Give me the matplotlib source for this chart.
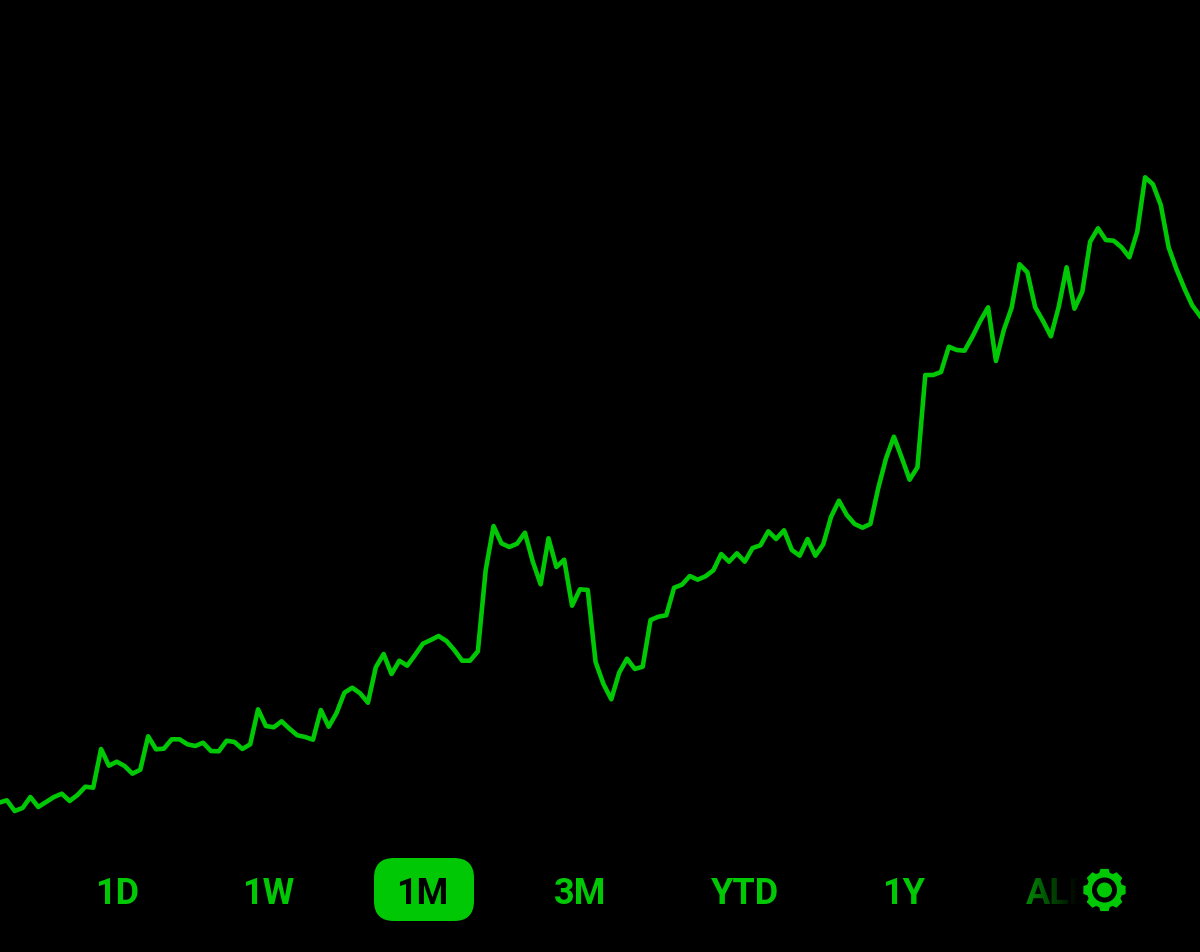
import matplotlib.pyplot as plt
import numpy as np
from matplotlib.patches import FancyBboxPatch, Circle, Polygon

# line values (height above the bottom edge)
values = [
    149.3, 151.7, 141.0, 144.0, 155.0, 145.0, 150.0, 155.0, 158.3, 151.0,
    157.0, 165.3, 164.3, 203.0, 186.3, 190.3, 186.0, 178.3, 182.3, 215.7,
    202.7, 203.3, 212.7, 212.7, 207.7, 206.0, 209.3, 201.0, 200.7, 211.3,
    210.0, 203.0, 207.7, 242.7, 226.0, 224.7, 230.7, 223.3, 216.7, 215.0,
    212.3, 242.0, 225.3, 239.0, 259.3, 264.3, 258.7, 249.3, 284.7, 298.0,
    278.0, 291.3, 286.3, 297.0, 308.3, 312.0, 316.0, 311.0, 302.0, 291.3,
    291.3, 300.7, 382.0, 426.0, 408.7, 405.0, 408.3, 419.3, 390.3, 367.7,
    413.7, 385.0, 392.3, 346.3, 362.7, 362.0, 290.0, 268.0, 252.7, 279.3,
    293.3, 283.0, 285.3, 332.0, 335.3, 336.7, 364.3, 367.3, 376.0, 372.3,
    375.7, 381.7, 398.0, 390.3, 398.7, 390.3, 404.0, 406.7, 420.7, 413.0,
    421.7, 402.0, 396.3, 413.0, 396.3, 407.7, 435.3, 451.3, 437.0, 428.0,
    424.3, 428.0, 463.7, 493.7, 515.3, 494.3, 472.3, 484.7, 577.0, 577.0,
    580.0, 605.3, 602.0, 601.3, 615.3, 631.0, 644.7, 591.0, 622.0, 644.3,
    687.7, 679.7, 644.7, 631.0, 615.7, 645.3, 684.7, 643.3, 660.3, 710.3,
    723.7, 712.0, 711.3, 704.7, 694.7, 720.3, 774.7, 767.7, 747.0, 704.7,
    682.7, 663.7, 646.7, 636.0,
]
ranges = ["1D", "1W", "1M", "3M", "YTD", "1Y", "ALL"]
selected = "1M"

GREEN = "#00c805"

fig = plt.figure(figsize=(12, 9.52), dpi=100, facecolor="black")

# chart
ax = fig.add_axes([0, 0, 1, 1])
ax.set_facecolor("black")
ax.plot(range(len(values)), values, color=GREEN, linewidth=3.3, solid_joinstyle="round")
ax.set_xlim(1 / 7.85, 1201 / 7.85)
ax.set_ylim(0, 952)
ax.axis("off")

# buttons on top, in pixels
ui = fig.add_axes([0, 0, 1, 1])
ui.patch.set_alpha(0)
ui.set_xlim(0, 1200)
ui.set_ylim(952, 0)
ui.axis("off")

btn_x = [117, 268, 422, 580, 745, 904, 1058]

ui.add_patch(FancyBboxPatch((374 + 20, 858 + 20), 100 - 40, 63 - 40,
                            boxstyle="round,pad=20,rounding_size=20",
                            fc=GREEN, ec="none", zorder=1))
for name, x in zip(ranges, btn_x):
    ui.text(x, 890.5, name, color="black" if name == selected else GREEN,
            fontsize=26, fontfamily="Roboto", fontweight="bold",
            ha="center", va="center_baseline", zorder=2)

# ALL fades out under the gear
fade = np.zeros((1, 64, 4))
fade[0, :, 3] = np.clip(np.linspace(0.3, 1.0, 64), 0, 1)
ui.imshow(fade, extent=(1025, 1078, 925, 860), aspect="auto", zorder=3)
ui.add_patch(plt.Rectangle((1078, 860), 20, 65, fc="black", ec="none", zorder=3))
ui.set_xlim(0, 1200)
ui.set_ylim(952, 0)

# gear
cx, cy = 1104.5, 890
angles, radii = [], []
for k in range(8):
    mid = k * np.pi / 4 - np.pi / 2
    angles += [mid - 0.30, mid - 0.19, mid + 0.19, mid + 0.30]
    radii += [18, 21.5, 21.5, 18]
gear = np.column_stack([cx + np.array(radii) * np.cos(angles),
                        cy + np.array(radii) * np.sin(angles)])
ui.add_patch(Polygon(gear, closed=True, fc=GREEN, ec="none", zorder=4))
ui.add_patch(Circle((cx, cy), 12.5, fc="black", ec="none", zorder=5))
ui.add_patch(Circle((cx, cy), 7.5, fc=GREEN, ec="none", zorder=6))

fig.savefig("out.png", dpi=100, facecolor="black")
